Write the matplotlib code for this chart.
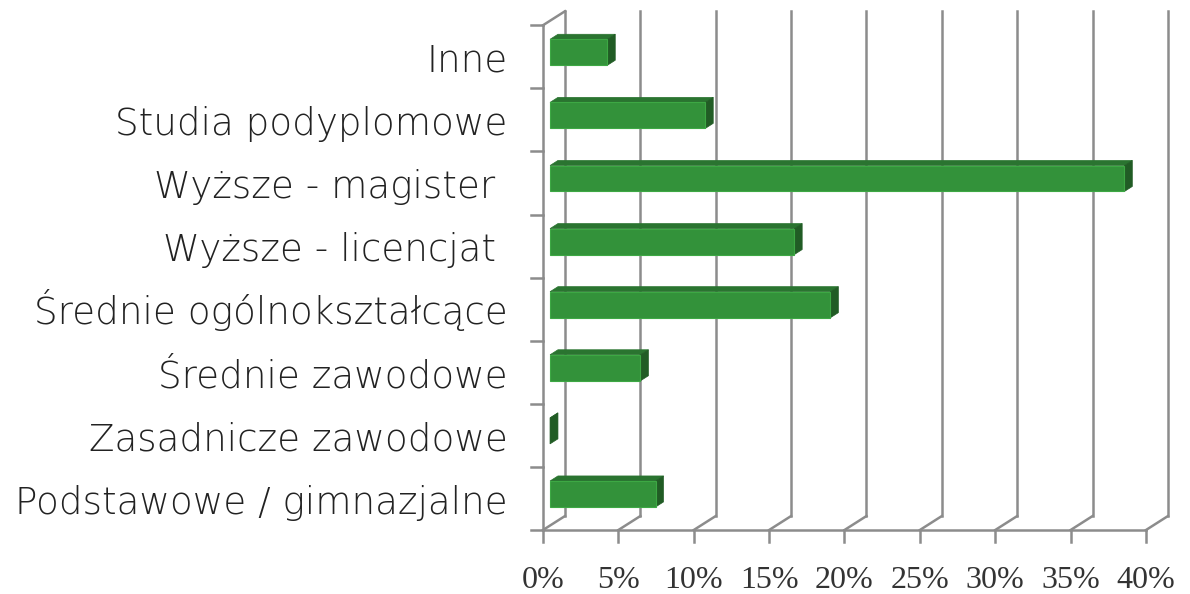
import matplotlib.pyplot as plt
from matplotlib.patches import Polygon

# data (bottom -> top)
categories = ["Podstawowe / gimnazjalne", "Zasadnicze zawodowe", "Średnie zawodowe",
              "Średnie ogólnokształcące", "Wyższe - licencjat ", "Wyższe - magister ",
              "Studia podyplomowe", "Inne"]
values = [7.0, 0.0, 6.0, 18.6, 16.2, 38.1, 10.3, 3.8]
ticks = [0, 5, 10, 15, 20, 25, 30, 35, 40]
tick_labels = ["0%", "5%", "10%", "15%", "20%", "25%", "30%", "35%", "40%"]

# oblique 3d look
DX, DY = 1.46, 0.222      # depth offset in data units
D0, D1 = 0.32, 0.68       # bar depth span (fraction of depth)
HALF = 0.206              # half bar height
grid_c = "#8c8c8c"
front_c, top_c, side_c = "#33923a", "#2a7430", "#215c25"

fig = plt.figure(figsize=(11.9, 5.94), dpi=100)
ax = fig.add_axes([0, 0, 1, 1])
ax.set_xlim(-36.02, 42.92)
ax.set_ylim(-1.014, 8.40)
ax.axis("off")

n = len(categories)
xmax = ticks[-1]

# back wall gridlines + floor diagonals
for t in ticks:
    ax.plot([t + DX, t + DX], [DY, n + DY], color=grid_c, lw=1.8, zorder=1)
    ax.plot([t, t + DX], [0, DY], color=grid_c, lw=1.8, zorder=1)
    ax.plot([t, t], [0, -0.19], color=grid_c, lw=1.8, zorder=1)

# front floor line and left wall
ax.plot([0, xmax], [0, 0], color=grid_c, lw=1.8, zorder=1)
ax.plot([0, 0], [0, n], color=grid_c, lw=1.8, zorder=1)
ax.plot([0, DX], [n, n + DY], color=grid_c, lw=1.8, zorder=1)
for i in range(n + 1):
    ax.plot([-0.8, 0], [i, i], color=grid_c, lw=1.8, zorder=1)

# bars
for i, v in enumerate(values):
    yc = i + 0.5
    x0, y0 = D0 * DX, yc + D0 * DY
    x1, y1 = D1 * DX, yc + D1 * DY
    front = [(x0, y0 - HALF), (v + x0, y0 - HALF), (v + x0, y0 + HALF), (x0, y0 + HALF)]
    top = [(x0, y0 + HALF), (v + x0, y0 + HALF), (v + x1, y1 + HALF), (x1, y1 + HALF)]
    side = [(v + x0, y0 - HALF), (v + x1, y1 - HALF), (v + x1, y1 + HALF), (v + x0, y0 + HALF)]
    ax.add_patch(Polygon(top, closed=True, fc=top_c, ec=top_c, lw=0.5, zorder=3))
    ax.add_patch(Polygon(side, closed=True, fc=side_c, ec=side_c, lw=0.5, zorder=3))
    if v > 0:
        ax.add_patch(Polygon(front, closed=True, fc=front_c, ec="#3da844", lw=0.8, zorder=3))

# category labels
for i, c in enumerate(categories):
    ax.text(-2.35, i + 0.26, c, ha="right", va="baseline", fontsize=26.8,
            family="DejaVu Sans", fontweight="light", color="#222222")

# value axis labels
for t, lab in zip(ticks, tick_labels):
    ax.text(t, -0.92, lab, ha="center", va="baseline", fontsize=23,
            family="Liberation Serif", color="#333333")

fig.savefig("out.png", dpi=100)
